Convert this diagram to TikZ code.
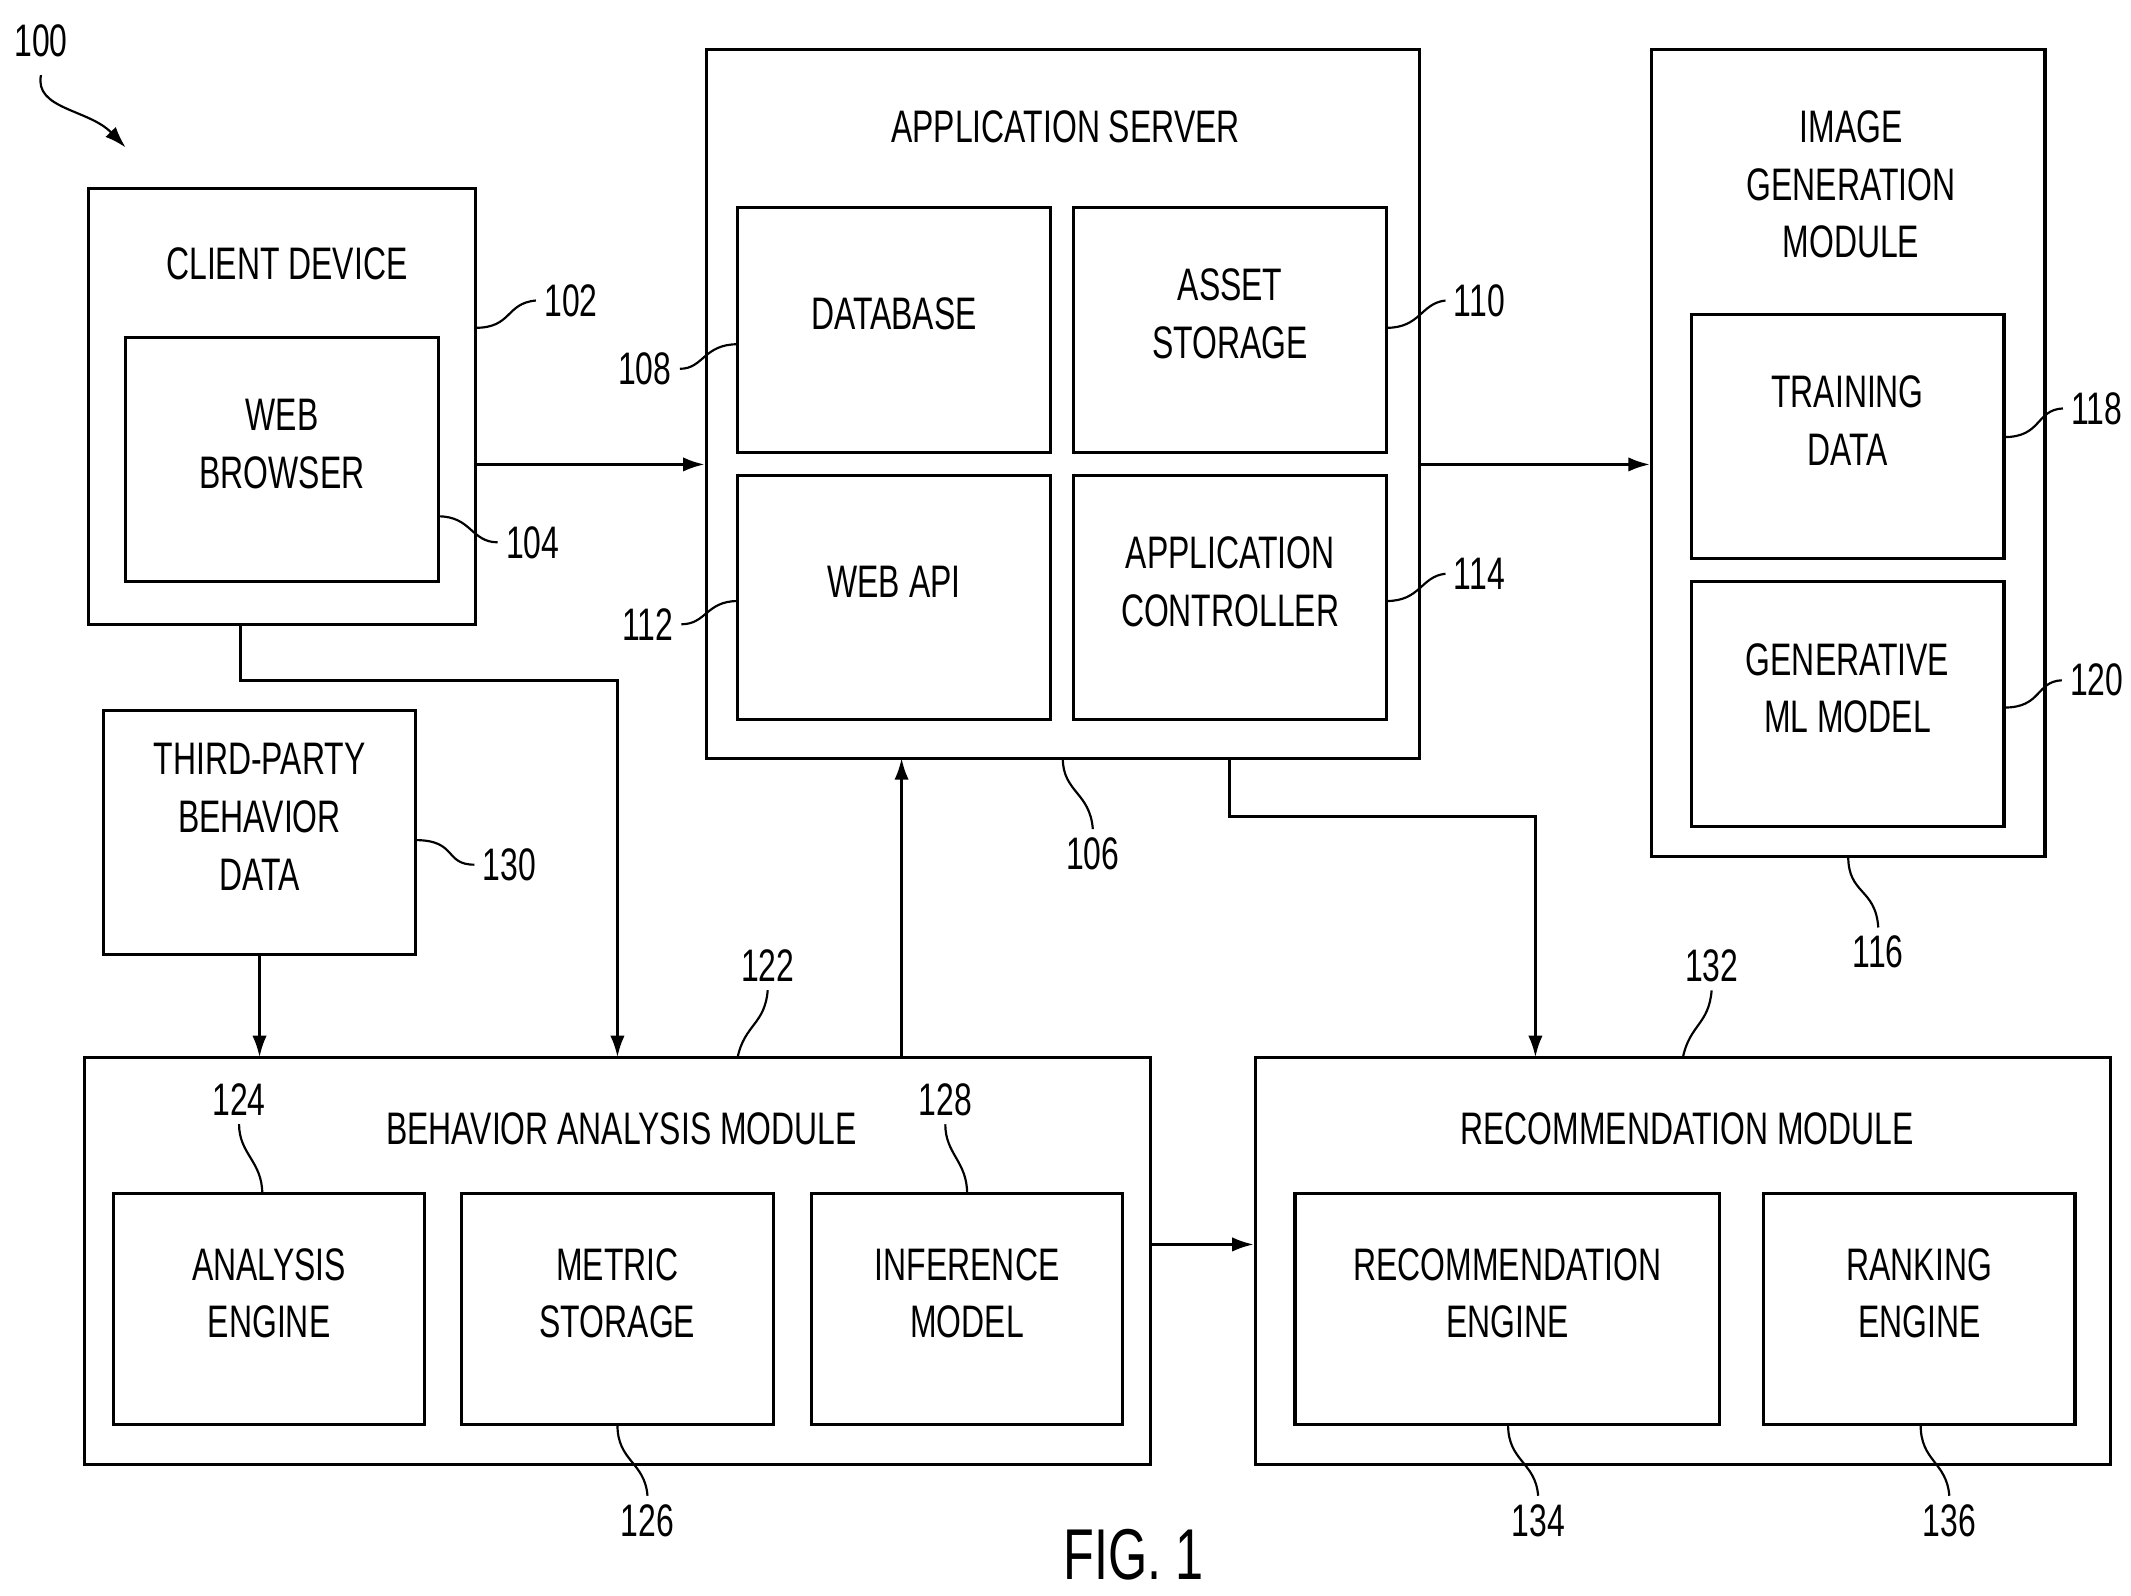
\documentclass[tikz,border=0pt]{standalone}
\usepackage{fontspec}
\setmainfont{Liberation Sans}[FakeStretch=0.7]
\usetikzlibrary{fit,arrows.meta}
\begin{document}
\begin{tikzpicture}[x=0.02cm,y=-0.02cm,
  box/.style={draw,line width=1.3pt,inner sep=0pt,align=center,font=\fontsize{19}{24}\selectfont},
  ttl/.style={align=center,font=\fontsize{19}{24}\selectfont},
  num/.style={font=\fontsize{19}{23}\selectfont},
  arr/.style={line width=1.2pt,-{Latex[length=9pt,width=6pt]}},
  ld/.style={line width=0.9pt}]
\useasboundingbox (0,0) rectangle (1560,1168);
\newcommand\bx[6]{\node[box,fit={(#2,#3)(#4,#5)}] (#1) {#6};}
\bx{cd}{65}{138}{348}{457}{}
\node[ttl] at (210,193) {CLIENT DEVICE};
\bx{wb}{92}{247}{321}{426}{WEB\\BROWSER}
\bx{as}{517}{36}{1039}{555}{}
\node[ttl] at (780,93) {APPLICATION SERVER};
\bx{db}{540}{152}{769}{331}{DATABASE}
\bx{ast}{786}{152}{1015}{331}{ASSET\\STORAGE}
\bx{api}{540}{348}{769}{527}{WEB API}
\bx{ac}{786}{348}{1015}{527}{APPLICATION\\CONTROLLER}
\bx{ig}{1209}{36}{1497}{627}{}
\node[ttl] at (1355,135) {IMAGE\\GENERATION\\MODULE};
\bx{td}{1238}{230}{1467}{409}{TRAINING\\DATA}
\bx{gm}{1238}{426}{1467}{605}{GENERATIVE\\ML MODEL}
\bx{tp}{76}{520}{304}{699}{THIRD-PARTY\\BEHAVIOR\\DATA}
\bx{bam}{62}{774}{842}{1072}{}
\node[ttl] at (455,826) {BEHAVIOR ANALYSIS MODULE};
\bx{ae}{83}{874}{311}{1043}{ANALYSIS\\ENGINE}
\bx{ms}{338}{874}{566}{1043}{METRIC\\STORAGE}
\bx{im}{594}{874}{822}{1043}{INFERENCE\\MODEL}
\bx{rm}{919}{774}{1545}{1072}{}
\node[ttl] at (1235,826) {RECOMMENDATION MODULE};
\bx{re}{948}{874}{1259}{1043}{RECOMMENDATION\\ENGINE}
\bx{rk}{1291}{874}{1519}{1043}{RANKING\\ENGINE}
% arrows
\draw[arr] (cd.east|-0,340) -- (as.west|-0,340);
\draw[arr] (as.east|-0,340) -- (ig.west|-0,340);
\draw[arr] (176,457) |- (452,498) -- (452,774);
\draw[arr] (tp.south-|190,0) -- (190,774);
\draw[arr] (660,774) -- (660,555);
\draw[arr] (900,555) |- (1124,598) -- (1124,774);
\draw[arr] (bam.east|-0,911) -- (rm.west|-0,911);
% reference numerals
\node[num] (n100) at (30,30) {100};
\draw[arr,line width=0.9pt] (30,55) .. controls (25,80) and (65,80) .. (92,108);
\node[num] (n102) at (418,220) {102}; \draw[ld] (348,240) .. controls (375,240) and (370,222) .. (n102.west);
\node[num] (n104) at (390,397) {104}; \draw[ld] (321,378) .. controls (345,378) and (345,397) .. (n104.west);
\node[num] (n108) at (472,270) {108}; \draw[ld] (n108.east) .. controls (515,270) and (515,252) .. (540,252);
\node[num] (n110) at (1083,220) {110}; \draw[ld] (1015,240) .. controls (1040,240) and (1040,222) .. (n110.west);
\node[num] (n112) at (474,457) {112}; \draw[ld] (n112.east) .. controls (517,457) and (517,440) .. (540,440);
\node[num] (n114) at (1083,420) {114}; \draw[ld] (1015,440) .. controls (1040,440) and (1040,422) .. (n114.west);
\node[num] (n118) at (1535,299) {118}; \draw[ld] (1467,320) .. controls (1495,320) and (1490,300) .. (n118.west);
\node[num] (n120) at (1535,498) {120}; \draw[ld] (1467,518) .. controls (1495,518) and (1490,499) .. (n120.west);
\node[num] (n130) at (373,633) {130}; \draw[ld] (304,615) .. controls (335,615) and (325,633) .. (n130.west);
\node[num] (n106) at (800,625) {106}; \draw[ld] (778,555) .. controls (778,580) and (798,580) .. (n106.north);
\node[num] (n116) at (1375,697) {116}; \draw[ld] (1353,627) .. controls (1353,655) and (1373,650) .. (n116.north);
\node[num] (n122) at (562,707) {122}; \draw[ld] (540,774) .. controls (545,750) and (560,750) .. (n122.south);
\node[num] (n132) at (1253,707) {132}; \draw[ld] (1232,774) .. controls (1237,750) and (1251,750) .. (n132.south);
\node[num] (n124) at (175,805) {124}; \draw[ld] (n124.south) .. controls (175,845) and (192,850) .. (192,874);
\node[num] (n128) at (692,805) {128}; \draw[ld] (n128.south) .. controls (692,845) and (708,850) .. (708,874);
\node[num] (n126) at (474,1113) {126}; \draw[ld] (452,1043) .. controls (452,1070) and (472,1070) .. (n126.north);
\node[num] (n134) at (1126,1113) {134}; \draw[ld] (1104,1043) .. controls (1104,1070) and (1124,1070) .. (n134.north);
\node[num] (n136) at (1427,1113) {136}; \draw[ld] (1406,1043) .. controls (1406,1070) and (1425,1070) .. (n136.north);
\node[font=\fontsize{30}{34}\selectfont] (fig) at (830,1138) {FIG. 1};
\end{tikzpicture}
\end{document}
